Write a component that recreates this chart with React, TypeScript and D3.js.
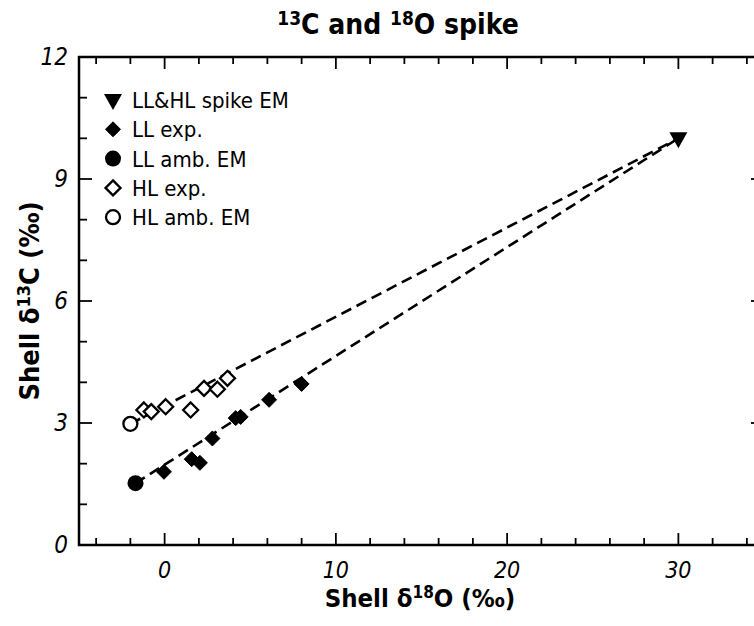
import React from "react";
import * as d3 from "d3";

// end members
const spikeEM = [{ x: 30, y: 10 }];
const llAmbEM = [{ x: -1.7, y: 1.52 }];
const hlAmbEM = [{ x: -2.0, y: 2.98 }];

const llExpX = [-0.04, 1.58, 2.06, 2.79, 4.15, 4.44, 6.1, 8.0];
const llExpY = [1.8, 2.11, 2.02, 2.62, 3.12, 3.15, 3.57, 3.96];
const hlExpX = [-1.21, -0.78, 0.06, 1.52, 2.3, 3.08, 3.67];
const hlExpY = [3.32, 3.28, 3.4, 3.32, 3.85, 3.83, 4.1];

const xTickLabels = [0, 10, 20, 30];
const yTickLabels = [0, 3, 6, 9, 12];

const legendItems = [
  "LL&HL spike EM",
  "LL exp.",
  "LL amb. EM",
  "HL exp.",
  "HL amb. EM",
];

const W = 754;
const H = 626;
const FONT = "'DejaVu Sans Condensed', 'Liberation Sans', sans-serif";

function Marker({ kind, cx, cy }: { kind: string; cx: number; cy: number }) {
  if (kind === "tri") {
    return (
      <path
        d={`M${cx - 9},${cy - 6}L${cx + 9},${cy - 6}L${cx},${cy + 10}Z`}
        fill="#000"
      />
    );
  }
  if (kind === "fdia" || kind === "odia") {
    const r = kind === "fdia" ? 7.5 : 7.5;
    return (
      <path
        d={`M${cx},${cy - r}L${cx + r},${cy}L${cx},${cy + r}L${cx - r},${cy}Z`}
        fill={kind === "fdia" ? "#000" : "#fff"}
        stroke="#000"
        strokeWidth={kind === "fdia" ? 1 : 2.3}
      />
    );
  }
  if (kind === "fcir") return <circle cx={cx} cy={cy} r={8} fill="#000" />;
  return <circle cx={cx} cy={cy} r={7} fill="#fff" stroke="#000" strokeWidth={2.3} />;
}

export default function App() {
  const left = 79, right = 764, top = 57, bottom = 545;
  const x = d3.scaleLinear().domain([-5, 35]).range([left, right]);
  const y = d3.scaleLinear().domain([0, 12]).range([bottom, top]);

  const xMinor = d3.range(-4, 35, 2);
  const yMinor = d3.range(1, 12, 1);

  const line = d3
    .line<{ x: number; y: number }>()
    .x((d) => x(d.x))
    .y((d) => y(d.y));

  const llExp = llExpX.map((v, i) => ({ x: v, y: llExpY[i] }));
  const hlExp = hlExpX.map((v, i) => ({ x: v, y: hlExpY[i] }));
  const markerKinds = ["tri", "fdia", "fcir", "odia", "ocir"];

  return (
    <svg
      width={W}
      height={H}
      style={{ position: "absolute", left: 0, top: 0, background: "#fff" }}
      fontFamily={FONT}
    >
      {/* mixing lines */}
      <path
        d={line([llAmbEM[0], spikeEM[0]]) || ""}
        fill="none"
        stroke="#000"
        strokeWidth={2.6}
        strokeDasharray="11,6"
      />
      <path
        d={line([hlAmbEM[0], spikeEM[0]]) || ""}
        fill="none"
        stroke="#000"
        strokeWidth={2.6}
        strokeDasharray="11,6"
      />

      {/* frame */}
      <rect
        x={left}
        y={top}
        width={right - left}
        height={bottom - top}
        fill="none"
        stroke="#000"
        strokeWidth={2.5}
      />

      {/* ticks */}
      {xMinor.map((v) => {
        const len = v % 10 === 0 ? 12 : 7;
        return (
          <g key={"xt" + v} stroke="#000" strokeWidth={1.8}>
            <line x1={x(v)} x2={x(v)} y1={bottom} y2={bottom - len} />
            <line x1={x(v)} x2={x(v)} y1={top} y2={top + len} />
          </g>
        );
      })}
      {yMinor.map((v) => {
        const len = v % 3 === 0 ? 13 : 8;
        return (
          <g key={"yt" + v} stroke="#000" strokeWidth={1.8}>
            <line x1={left} x2={left + len} y1={y(v)} y2={y(v)} />
            <line x1={right} x2={right - len} y1={y(v)} y2={y(v)} />
          </g>
        );
      })}

      {/* tick labels */}
      {xTickLabels.map((v) => (
        <text
          key={"xl" + v}
          x={x(v)}
          y={578}
          textAnchor="middle"
          fontSize={23}
          fontStyle="italic"
        >
          {v}
        </text>
      ))}
      {yTickLabels.map((v) => (
        <text
          key={"yl" + v}
          x={68}
          y={y(v) + 8}
          textAnchor="end"
          fontSize={24}
          fontStyle="italic"
        >
          {v}
        </text>
      ))}

      {/* data */}
      {hlExp.map((d, i) => (
        <Marker key={"h" + i} kind="odia" cx={x(d.x)} cy={y(d.y)} />
      ))}
      {llExp.map((d, i) => (
        <Marker key={"l" + i} kind="fdia" cx={x(d.x)} cy={y(d.y)} />
      ))}
      <Marker kind="fcir" cx={x(llAmbEM[0].x)} cy={y(llAmbEM[0].y)} />
      <Marker kind="ocir" cx={x(hlAmbEM[0].x)} cy={y(hlAmbEM[0].y)} />
      <Marker kind="tri" cx={x(spikeEM[0].x)} cy={y(spikeEM[0].y)} />

      {/* legend */}
      {legendItems.map((label, i) => (
        <g key={label} transform={`translate(0,${100 + i * 29.3})`}>
          <Marker kind={markerKinds[i]} cx={113} cy={0} />
          <text x={132} y={8} fontSize={22}>
            {label}
          </text>
        </g>
      ))}

      {/* title */}
      <text x={398} y={34} textAnchor="middle" fontSize={28} fontWeight="bold">
        <tspan fontSize={19} dy={-9}>13</tspan>
        <tspan dy={9}>C and </tspan>
        <tspan fontSize={19} dy={-9}>18</tspan>
        <tspan dy={9}>O spike</tspan>
      </text>

      {/* axis titles */}
      <text x={420} y={607} textAnchor="middle" fontSize={25.5} fontWeight="bold">
        <tspan>Shell δ</tspan>
        <tspan fontSize={17} dy={-9}>18</tspan>
        <tspan dy={9}>O (‰)</tspan>
      </text>
      <text
        transform={`translate(39,${(top + bottom) / 2}) rotate(-90)`}
        textAnchor="middle"
        fontSize={27}
        fontWeight="bold"
      >
        <tspan>Shell δ</tspan>
        <tspan fontSize={18} dy={-9}>13</tspan>
        <tspan dy={9}>C (‰)</tspan>
      </text>
    </svg>
  );
}
